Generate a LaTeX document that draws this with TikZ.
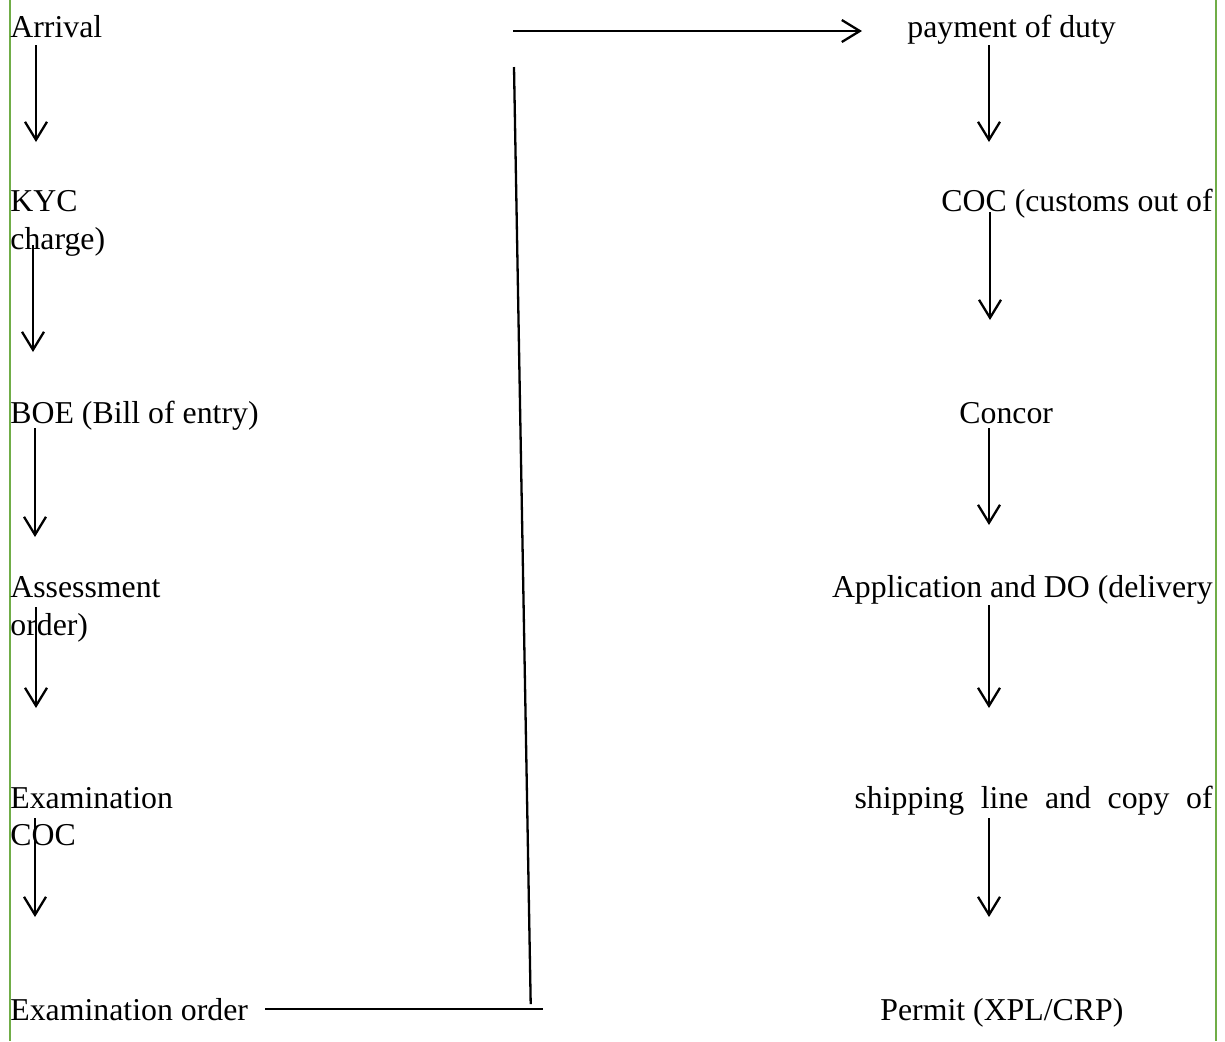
\documentclass[tikz,border=0pt]{standalone}
\usepackage{fontspec}
\setmainfont{Liberation Serif}
\usetikzlibrary{arrows.meta}
\definecolor{edgegreen}{RGB}{112,173,71}
\tikzset{
  step text/.style={anchor=base west, inner sep=0pt, font=\fontsize{15.9}{19}\selectfont},
  flow/.style={line width=1.15pt, -{Straight Barb[length=9pt,width=11pt,line width=1.15pt]}},
  plain/.style={line width=1.15pt},
}
\begin{document}
\begin{tikzpicture}[x=0.5pt,y=-0.5pt]
  \useasboundingbox (0,0) rectangle (1225,1041);
  % page edges
  \draw[edgegreen, line width=1.2pt] (10,0) -- (10,1041);
  \draw[edgegreen, line width=1.2pt] (1216,0) -- (1216,1041);
  % left column
  \node[step text] (arrival) at (10,37) {Arrival};
  \node[step text] (kyc) at (10,211) {KYC};
  \node[step text] (charge) at (10,249) {charge)};
  \node[step text] (boe) at (10,423) {BOE (Bill of entry)};
  \node[step text] (assess) at (10,597) {Assessment};
  \node[step text] (order) at (10,635) {order)};
  \node[step text] (exam) at (10,808) {Examination};
  \node[step text] (coc) at (10,845) {COC};
  \node[step text] (examorder) at (10,1020) {Examination order};
  % right column
  \node[step text] (duty) at (907,37) {payment of duty};
  \node[step text, anchor=base east] (customs) at (1213,211) {COC (customs out of};
  \node[step text] (concor) at (959,423) {Concor};
  \node[step text, anchor=base east] (delivery) at (1213,597) {Application and DO (delivery};
  \node[step text, anchor=base east] (shipping) at (1213,808) {\makebox[179pt][s]{shipping line and copy of}};
  \node[step text] (permit) at (880,1020) {Permit (XPL/CRP)};
  % down arrows
  \foreach \n/\x/\a/\b in {l1/36/45/142, l2/33/245/352, l3/35/428/537, l4/36/607/708, l5/35/818/917,
                           r1/989/45/142, r2/990/212/320, r3/989/428/525, r4/989/605/708, r5/989/818/917}
  {
    \coordinate (s\n) at (\x,\a);
    \coordinate (e\n) at (\x,\b);
    \draw[flow] (s\n) -- (e\n);
  }
  % link between the columns
  \coordinate (topL) at (513,31);
  \coordinate (topR) at (862,31);
  \coordinate (riseTop) at (514,67);
  \coordinate (riseBot) at (530.7,1004);
  \coordinate (baseL) at (265,1009);
  \coordinate (baseR) at (543,1009);
  \draw[flow] (topL) -- (topR);
  \draw[plain] (riseTop) -- (riseBot);
  \draw[plain] (baseL) -- (baseR);
\end{tikzpicture}
\end{document}
